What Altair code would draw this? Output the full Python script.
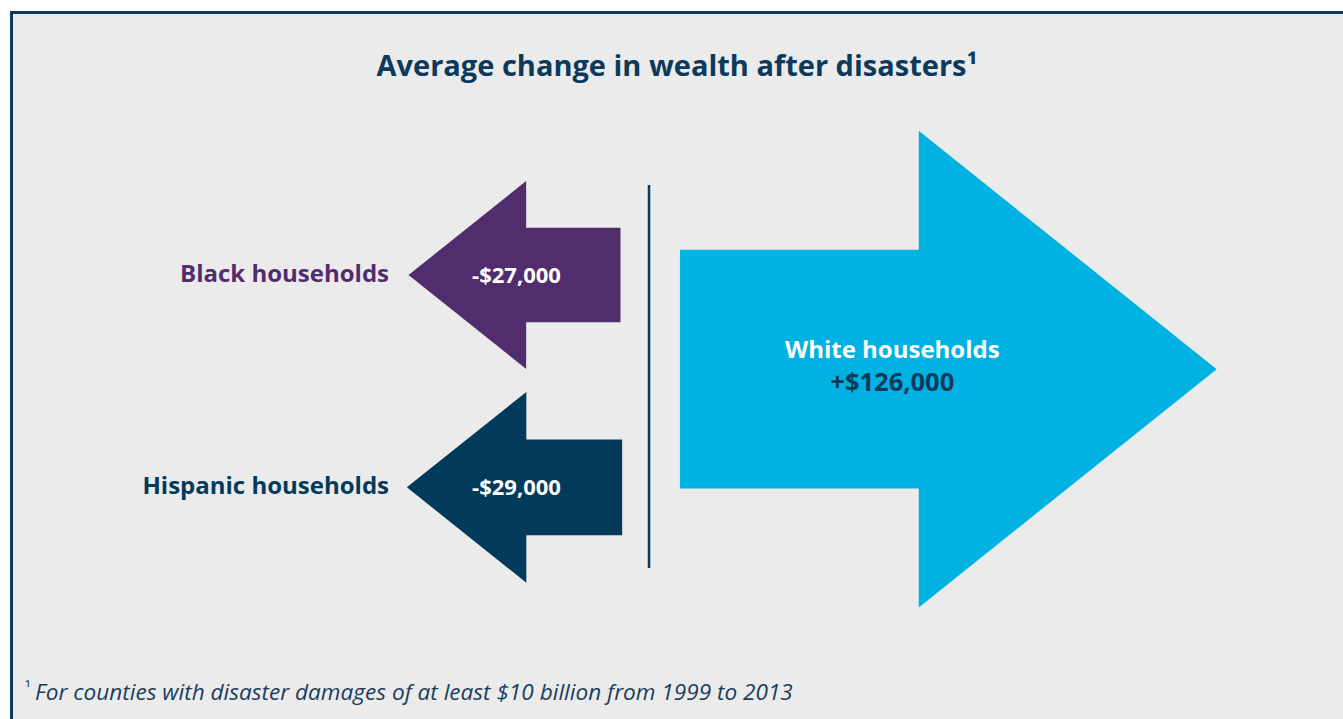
import altair as alt
import pandas as pd
import numpy as np

# ---- data ----
groups = ["Black households", "Hispanic households", "White households"]
values = [-27000, -29000, 126000]
group_colors = ["#512d6d", "#023a5c", "#00b2e1"]

TITLE = "Average change in wealth after disasters¹"
FOOT_MARK = "¹"
FOOTNOTE = "For counties with disaster damages of at least $10 billion from 1999 to 2013"

FONT = "Open Sans"
NAVY = "#0b3a5c"

df = pd.DataFrame({"group": groups, "value": values})
df["direction"] = np.where(df["value"] < 0, "loss", "gain")
df["magnitude"] = df["value"].abs()
df["amount"] = [("-" if v < 0 else "+") + f"${abs(v):,}" for v in values]

LEFT_ARROW = "M-1,0L0.11,-0.886L0.11,-0.445L1,-0.445L1,0.445L0.11,0.445L0.11,0.886Z"
RIGHT_ARROW = "M1,0L-0.11,-0.888L-0.11,-0.445L-1,-0.445L-1,0.445L-0.11,0.445L-0.11,0.888Z"

x_enc = alt.X("direction:N", axis=None,
              scale=alt.Scale(domain=["loss", "gain"], range=[514.5, 948.3], padding=0))
y_enc = alt.Y("group:N", axis=None,
              scale=alt.Scale(domain=[groups[0], groups[2], groups[1]], range=[275, 487.3], padding=0))
color_enc = alt.Color("group:N", legend=None,
                      scale=alt.Scale(domain=groups, range=group_colors))
shape_enc = alt.Shape("direction:N", legend=None,
                      scale=alt.Scale(domain=["loss", "gain"], range=[LEFT_ARROW, RIGHT_ARROW]))
size_enc = alt.Size("magnitude:Q", legend=None,
                    scale=alt.Scale(domain=[27000, 29000, 126000],
                                    range=[44944, 46354, 288047], zero=False))

base = alt.Chart(df).encode(x=x_enc, y=y_enc)

one = pd.DataFrame({"k": [0]})

frame = alt.Chart(one).mark_rect(fill="#ebebeb", stroke="#0e3b5e", strokeWidth=3).encode(
    x=alt.value(11.5), x2=alt.value(1400), y=alt.value(12.5), y2=alt.value(800)
)

loss_arrows = base.transform_filter("datum.value < 0").mark_point(
    filled=True, opacity=1, strokeWidth=0
).encode(shape=shape_enc, size=size_enc, color=color_enc)

gain_arrow = base.transform_filter("datum.value > 0").mark_point(
    filled=True, opacity=1, strokeWidth=0, yOffset=-12
).encode(shape=shape_enc, size=size_enc, color=color_enc)

divider = alt.Chart(one).mark_rule(color=NAVY, strokeWidth=2.5).encode(
    x=alt.value(649), y=alt.value(185), y2=alt.value(568)
)

group_labels = base.transform_filter("datum.value < 0").mark_text(
    align="right", baseline="middle", font=FONT, fontSize=24, fontWeight="bold"
).encode(x=alt.value(389), text="group:N", color=color_enc)

loss_amounts = base.transform_filter("datum.value < 0").mark_text(
    align="center", baseline="middle", font=FONT, fontSize=22, fontWeight="bold",
    color="white", dx=2, dy=1
).encode(text="amount:N")

gain_label = base.transform_filter("datum.value > 0").mark_text(
    align="center", baseline="middle", font=FONT, fontSize=24, fontWeight="bold",
    color="white", dx=-56, dy=-30
).encode(text="group:N")

gain_amount = base.transform_filter("datum.value > 0").mark_text(
    align="center", baseline="middle", font=FONT, fontSize=25.5, fontWeight="bold",
    color=NAVY, dx=-56, dy=2
).encode(text="amount:N")

title = alt.Chart(pd.DataFrame({"t": [TITLE]})).mark_text(
    align="center", baseline="middle", font=FONT, fontSize=29, fontWeight="bold", color=NAVY
).encode(x=alt.value(677), y=alt.value(67), text="t:N")

foot_mark = alt.Chart(pd.DataFrame({"t": [FOOT_MARK]})).mark_text(
    align="left", baseline="middle", font=FONT, fontSize=16, color=NAVY
).encode(x=alt.value(25), y=alt.value(689), text="t:N")

footnote = alt.Chart(pd.DataFrame({"t": [FOOTNOTE]})).mark_text(
    align="left", baseline="middle", font=FONT, fontSize=22.6, fontStyle="italic", color="#1b3d5c"
).encode(x=alt.value(35), y=alt.value(693), text="t:N")

chart = alt.layer(
    frame, loss_arrows, gain_arrow, divider, group_labels, loss_amounts,
    gain_label, gain_amount, title, foot_mark, footnote
).properties(
    width=1343, height=719, padding=0, autosize="none", background="white"
).configure_view(strokeWidth=0)

chart.save("out.html", embed_options={"renderer": "svg", "actions": False})
